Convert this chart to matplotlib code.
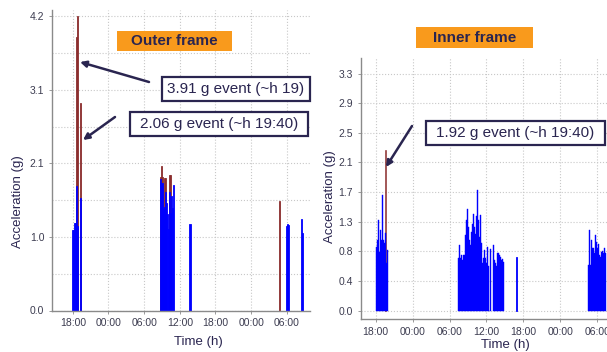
import matplotlib
matplotlib.use("Agg")
import matplotlib.pyplot as plt
from matplotlib.patches import Rectangle, FancyArrowPatch

plt.rcParams['font.family'] = ['Liberation Sans', 'DejaVu Sans']

W, H = 607, 352

# ---------------- Data ----------------
# time in hours from midnight of day 1 (18 = 18:00 day 1, 24 = 00:00 day 2, ...)
xtick_pos = [18, 24, 30, 36, 42, 48, 54]
xtick_labels = ["18:00", "00:00", "06:00", "12:00", "18:00", "00:00", "06:00"]

# Outer frame
outer_t = [18.0, 18.15, 18.3, 18.45, 18.6, 18.75, 19.27,
           32.72, 32.87, 33.02, 33.2, 33.37, 33.55, 33.72, 33.9, 34.07,
           34.25, 34.42, 34.6, 34.77, 34.93,
           37.7, 52.73, 53.9, 54.05, 54.2, 56.45, 56.6]
outer_blue = [1.15, 1.15, 1.25, 1.25, 1.78, 1.2, 1.6,
              1.88, 1.82, 1.82, 1.45, 1.48, 1.69, 1.53, 1.38, 1.16,
              1.69, 1.39, 1.64, 1.46, 1.79,
              1.24, 0.0, 1.2, 1.24, 1.22, 1.31, 1.1]
outer_red = [0, 0, 0, 0, 3.9, 4.2, 2.96,
             1.9, 2.07, 1.91, 0, 1.89, 1.89, 0, 0, 0,
             1.93, 1.93, 0, 0, 0,
             0, 1.56, 0, 0, 0, 0, 0]
outer_yticks = [0.0, 1.05, 2.1, 3.15, 4.2]
outer_yticklabels = ["0.0", "1.0", "2.1", "3.1", "4.2"]

# Inner frame
inner_c1_start = 18.05
inner_c1 = [0.89, 0.98, 1.26, 0.82, 1.12, 0.98, 1.61, 0.98, 0.94, 1.08, 0.66, 0.84]
inner_c2_start = 31.45
inner_c2 = [0.73, 0.91, 0.73, 0.77, 0.71, 0.77, 0.77, 1.05, 1.26, 1.42, 1.17, 0.98,
            0.91, 1.10, 1.21, 1.35, 1.17, 1.07, 1.31, 1.68, 1.26, 1.03, 1.33, 0.94,
            0.66, 0.73, 0.84, 0.73, 0.66, 0.89, 0.62, 0.0, 0.86]
inner_c3_start = 37.12
inner_c3 = [0.91, 0.70, 0.66, 0.62, 0.80, 0.80, 0.78, 0.75, 0.70, 0.72, 0.68]
inner_single_t = [40.9]
inner_single_v = [0.74]
inner_c4_start = 52.6
inner_c4 = [0.63, 1.12, 0.63, 0.98, 0.87, 0.87, 0.80, 1.05, 0.96, 0.87, 0.93, 0.77,
            0.75, 0.82, 0.83, 0.80, 0.87, 0.80]
inner_red_t = [19.63]
inner_red_v = [2.24]
inner_yticks = [0.4125 * i for i in range(9)]
inner_yticklabels = ["0.0", "0.4", "0.8", "1.3", "1.7", "2.1", "2.5", "2.9", "3.3"]
inner_step = 0.163

BLUE = "#0000ff"
RED = "#8b2d2d"
NAVY = "#2a2550"
ORANGE = "#f99a1c"
GRID = "#c8c8c8"
SPINE = "#8a8a8a"
TICKC = "#3c3c50"

fig = plt.figure(figsize=(W / 100, H / 100), dpi=100)


def ax_rect(x0, y0, x1, y1):
    return [x0 / W, 1 - y1 / H, (x1 - x0) / W, (y1 - y0) / H]


def style(ax):
    for s in ["top", "right"]:
        ax.spines[s].set_visible(False)
    for s in ["left", "bottom"]:
        ax.spines[s].set_color(SPINE)
        ax.spines[s].set_linewidth(1.0)
    ax.tick_params(axis="both", labelsize=7.5, colors=SPINE, labelcolor=TICKC, length=2, width=0.6)
    ax.set_xticks(xtick_pos)
    ax.set_xticklabels(xtick_labels)
    ax.grid(True, which="both", color=GRID, linestyle=":", linewidth=0.8)
    ax.set_axisbelow(True)


# ---------------- Left (outer) ----------------
axL = fig.add_axes(ax_rect(52, 10, 310, 310.5))
style(axL)
axL.bar(outer_t, outer_red, width=0.2, color=RED, edgecolor=RED, linewidth=0.6)
axL.bar(outer_t, outer_blue, width=0.2, color=BLUE, edgecolor=BLUE, linewidth=0.6)
axL.set_xlim(14.5, 57.9)
axL.set_ylim(0, 4.29)
axL.set_yticks(outer_yticks)
axL.set_yticklabels(outer_yticklabels)
axL.set_yticks([0.525, 1.575, 2.625, 3.675], minor=True)
axL.tick_params(axis="y", which="minor", length=0)

# ---------------- Right (inner) ----------------
axR = fig.add_axes(ax_rect(360.7, 58, 607, 319))
style(axR)
axR.bar(inner_red_t, inner_red_v, width=0.12, color=RED, edgecolor=RED, linewidth=0.4)
for start, vals in [(inner_c1_start, inner_c1), (inner_c2_start, inner_c2),
                    (inner_c3_start, inner_c3), (inner_c4_start, inner_c4)]:
    ts = [start + i * inner_step for i in range(len(vals))]
    axR.bar(ts, vals, width=inner_step, color=BLUE, edgecolor=BLUE, linewidth=0.3)
axR.bar(inner_single_t, inner_single_v, width=0.2, color=BLUE, edgecolor=BLUE, linewidth=0.6)
axR.set_xlim(15.56, 55.6)
axR.set_ylim(-0.118, 3.517)
axR.set_yticks(inner_yticks)
axR.set_yticklabels(inner_yticklabels)

# ---------------- Labels ----------------
def fx(x):
    return x / W


def fy(y):
    return 1 - y / H


fig.text(fx(18), fy(202), "Acceleration (g)", rotation=90, ha="center", va="center",
         fontsize=9.5, color=NAVY)
fig.text(fx(330), fy(197), "Acceleration (g)", rotation=90, ha="center", va="center",
         fontsize=9.5, color=NAVY)
fig.text(fx(198), fy(342), "Time (h)", ha="center", va="center", fontsize=9.5, color=NAVY)
fig.text(fx(505), fy(345), "Time (h)", ha="center", va="center", fontsize=9.5, color=NAVY)


def box(x0, y0, x1, y1, text, fc, ec, lw, weight="normal", size=11):
    fig.add_artist(Rectangle((fx(x0), fy(y1)), (x1 - x0) / W, (y1 - y0) / H,
                             transform=fig.transFigure, facecolor=fc, edgecolor=ec,
                             linewidth=lw, zorder=5))
    fig.text(fx((x0 + x1) / 2), fy((y0 + y1) / 2), text, ha="center", va="center",
             fontsize=size, color=NAVY, fontweight=weight, zorder=6)


box(117, 31, 232, 51, "Outer frame", ORANGE, "none", 0, weight="bold", size=11)
box(416, 27, 533, 48, "Inner frame", ORANGE, "none", 0, weight="bold", size=11)
box(162, 77, 310, 101, "3.91 g event (~h 19)", "white", NAVY, 1.6)
box(130, 112, 308, 136, "2.06 g event (~h 19:40)", "white", NAVY, 1.6)
box(426, 121, 605, 145, "1.92 g event (~h 19:40)", "white", NAVY, 1.6)


def arrow(x0, y0, x1, y1):
    fig.add_artist(FancyArrowPatch((fx(x0), fy(y0)), (fx(x1), fy(y1)),
                                   transform=fig.transFigure, arrowstyle="-|>",
                                   mutation_scale=9, linewidth=1.8, color=NAVY,
                                   shrinkA=0, shrinkB=0, zorder=7))


arrow(149, 82, 80, 62)
arrow(115, 117, 83, 140)
arrow(412, 126, 386, 167)

fig.savefig("out.png", dpi=100)
